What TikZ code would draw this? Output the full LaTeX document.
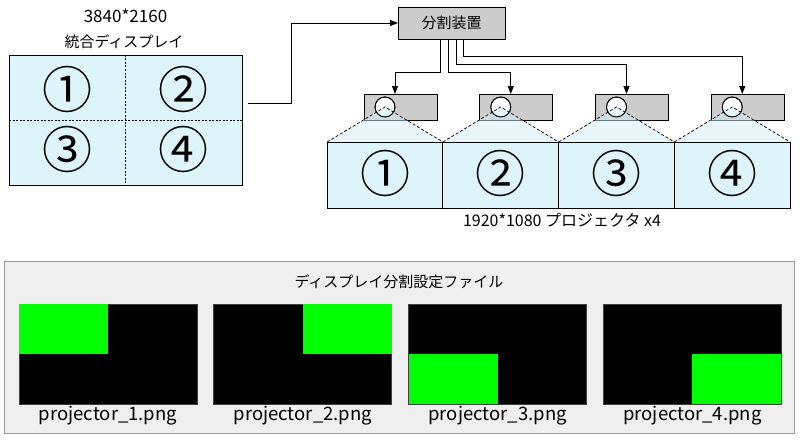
\documentclass[tikz,border=0pt]{standalone}
\usepackage{fontspec}
\setmainfont{Noto Sans CJK JP}
\usetikzlibrary{arrows.meta}
\definecolor{scr}{HTML}{DDF4FB}
\definecolor{beamc}{HTML}{D2EFF8}
\definecolor{gbox}{HTML}{CCCCCC}
\definecolor{panel}{HTML}{EFEFEF}
\definecolor{panelb}{HTML}{999999}
\definecolor{grn}{HTML}{00FF00}
\begin{document}
\begin{tikzpicture}[x=1pt,y=-1pt,
  every node/.style={inner sep=0pt, outer sep=0pt},
  lw/.style={line width=0.8pt},
  arr/.style={lw, -{Triangle[length=8pt,width=6pt]}},
  txt/.style={font=\fontsize{15}{18}\selectfont},
  num/.style={font=\fontsize{17}{20}\selectfont},
  big/.style={font=\fontsize{50}{54}\selectfont},
  screen/.style={draw, lw, fill=scr, minimum width=115.75pt, minimum height=66pt},
  projbox/.style={draw, lw, fill=gbox, minimum width=73pt, minimum height=26pt},
  lens/.style={circle, draw, lw, fill=white, minimum size=20pt},
  divider/.style={line width=0.7pt, dash pattern=on 2pt off 1.5pt},
  beamedge/.style={line width=0.7pt, dash pattern=on 3pt off 2pt},
  thumb/.style={draw=black!75, line width=0.8pt, fill=black, minimum width=178pt, minimum height=100pt},
  green/.style={fill=grn, minimum width=89pt, minimum height=50pt},
  lbl/.style={font=\fontsize{18.5}{21}\selectfont}
]
\useasboundingbox (0,0) rectangle (800,444);
\fill[white] (0,0) rectangle (800,444);

% integrated display
\node[num] (res) at (125.5,16) {3840*2160};
\node[txt] (dtitle) at (124,42) {統合ディスプレイ};
\node[draw, lw, fill=scr, minimum width=233pt, minimum height=130pt] (disp) at (125.5,120) {};
\draw[divider] (disp.north) -- (disp.south);
\draw[divider] (disp.west) -- (disp.east);
\node[big] (d1) at (67,89) {①};
\node[big] (d2) at (183,89) {②};
\node[big] (d3) at (67,149) {③};
\node[big] (d4) at (183,149) {④};

% splitter
\node[draw, lw, fill=gbox, minimum width=107pt, minimum height=32pt, txt] (split) at (451.5,23) {分割装置};
\coordinate (c0) at (248,103);
\draw[arr] (c0) -- (291,103) |- (split.west);

% projectors and screens
\foreach \i/\cx/\n in {1/385/①, 2/500.75/②, 3/616.5/③, 4/732.25/④}{
  \node[projbox] (p\i) at (\cx+15.5,107) {};
  \node[screen] (s\i) at (\cx,175) {};
  \node[big] (n\i) at (\cx,173) {\n};
  \node[lens] (l\i) at (\cx,107) {};
  \fill[beamc, opacity=0.5] (l\i.center) -- (s\i.north west) -- (s\i.north east) -- cycle;
  \draw[beamedge] (s\i.north west) -- (l\i.center) -- (s\i.north east);
  \draw[lw] (l\i.center) circle[radius=10pt];
}
\draw[lw] (s1.north west) -- (s4.north east);

\draw[arr] ([xshift=-11.5pt]split.south) -- ++(0,33) -| ([xshift=-5.5pt]p1.north);
\draw[arr] ([xshift=-3.5pt]split.south) -- ++(0,33) -| ([xshift=-5.5pt]p2.north);
\draw[arr] ([xshift=4.5pt]split.south) -- ++(0,25) -| ([xshift=-5.5pt]p3.north);
\draw[arr] ([xshift=11.5pt]split.south) -- ++(0,17) -| ([xshift=-5.5pt]p4.north);

\node[font=\fontsize{16}{19}\selectfont] (ptitle) at (562,220) {1920*1080 プロジェクタ x4};

% settings panel
\node[draw=panelb, line width=1pt, fill=panel, minimum width=789.5pt, minimum height=172pt] (panelbox) at (399.25,347) {};
\node[txt] (ftitle) at (399,282) {ディスプレイ分割設定ファイル};
\foreach \i/\tx/\gx/\gy in {1/108/-44.5/-25, 2/302.8/44.5/-25, 3/497.6/-44.5/25, 4/692.4/44.5/25}{
  \node[thumb] (t\i) at (\tx,354) {};
  \node[green] (g\i) at ([xshift=\gx pt, yshift=-\gy pt]t\i.center) {};
  \node[lbl] (f\i) at (\tx,416) {projector\_\i.png};
}
\end{tikzpicture}
\end{document}
